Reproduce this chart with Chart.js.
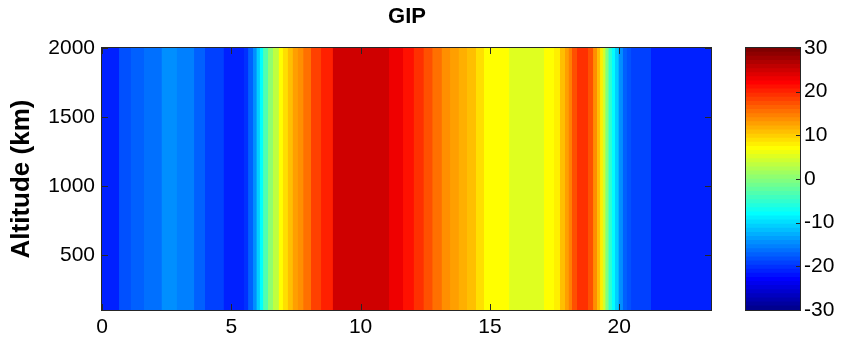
<!DOCTYPE html>
<html><head><meta charset="utf-8">
<script src="https://cdn.jsdelivr.net/npm/chart.js@4.4.0/dist/chart.umd.min.js"></script>
<style>
html,body{margin:0;padding:0;background:#fff;width:842px;height:341px;overflow:hidden}
#main{position:absolute;left:0;top:0}
#cbar{position:absolute;left:740px;top:0}
</style></head><body>
<canvas id="main" width="814" height="341"></canvas>
<canvas id="cbar" width="102" height="341"></canvas>
<script>
// ---- data ----
const chartTitle = 'GIP';
const yAxisTitle = 'Altitude (km)';
const stripeStartHours = [0,0.66,1.11,1.62,2.30,2.89,3.56,3.98,4.70,5.49,5.65,5.84,5.97,6.10,6.23,6.42,6.61,6.83,6.99,7.18,7.37,7.57,7.78,8.08,8.47,8.92,11.10,11.64,12.05,12.43,12.77,13.13,13.46,13.79,14.11,14.46,14.77,15.24,15.74,17.09,17.48,17.71,17.90,18.04,18.17,18.37,18.79,18.99,19.14,19.26,19.36,19.46,19.58,19.71,19.84,19.97,20.14,20.29,20.46,21.23];
const gipValues = [-21.1,-18.1,-17.1,-16.1,-14.1,-15.1,-17.1,-19.1,-21.1,-20.1,-17.1,-14.1,-11.1,-8.1,-3.6,0.9,3.4,6.9,8.9,10.9,12.9,13.9,15.9,17.9,19.9,24.9,22.9,20.9,19.4,17.4,15.4,13.9,12.9,11.9,10.4,8.9,7.4,6.9,5.2,6.9,7.9,10.4,12.9,14.9,16.9,18.9,16.9,13.9,10.9,7.9,3.9,-0.6,-5.1,-8.1,-11.1,-14.1,-17.1,-18.1,-19.1,-21.1];
const hourMax = 23.55;
const altitudeRange = [100, 2000];
const xTicks = [0, 5, 10, 15, 20];
const yTicks = [500, 1000, 1500, 2000];
const cbarRange = [-30, 30];
const cbarTicks = [-30, -20, -10, 0, 10, 20, 30];
const nColors = 64;

// ---- MATLAB jet(64) colormap ----
function jetColor(k){ // k = 1..64
  const n = 16, u = [];
  for(let j=1;j<=n;j++) u.push(j/n);
  for(let j=1;j<n;j++) u.push(1);
  for(let j=n;j>=1;j--) u.push(j/n);
  const U = j => (j>=1 && j<=u.length) ? u[j-1] : 0;
  const r=U(k-24), g=U(k-8), b=U(k+8);
  return `rgb(${Math.round(r*255)},${Math.round(g*255)},${Math.round(b*255)})`;
}
function colorFor(v){
  let k = Math.floor((v-cbarRange[0])/(cbarRange[1]-cbarRange[0])*nColors)+1;
  k = Math.max(1, Math.min(nColors, k));
  return jetColor(k);
}

const FONT = '"Liberation Sans", Arial, Helvetica, sans-serif';
const FRAME = '#262626';
const plain = v => String(v);

// ---- main heat map ----
const N = stripeStartHours.length;
const stripeSets = stripeStartHours.map((h,i)=>({
  data:[{x:h, y:altitudeRange[1]}, {x:hourMax, y:altitudeRange[1]}],
  fill:{value:altitudeRange[0]},
  backgroundColor: colorFor(gipValues[i]),
  borderWidth:0, pointRadius:0, tension:0,
  order: N - i
}));

const framePlugin = {
  id:'frame',
  afterDatasetsDraw(chart){
    const {ctx, chartArea:a, scales:{x,y}} = chart;
    ctx.save();
    ctx.strokeStyle = FRAME; ctx.lineWidth = 1;
    ctx.beginPath();
    const L = 6;
    xTicks.forEach(v=>{
      const px = Math.round(x.getPixelForValue(v))+0.5;
      ctx.moveTo(px, a.bottom); ctx.lineTo(px, a.bottom-L);
      ctx.moveTo(px, a.top); ctx.lineTo(px, a.top+L);
    });
    yTicks.forEach(v=>{
      const py = Math.round(y.getPixelForValue(v))+0.5;
      ctx.moveTo(a.left, py); ctx.lineTo(a.left+L, py);
      ctx.moveTo(a.right, py); ctx.lineTo(a.right-L, py);
    });
    ctx.stroke();
    ctx.strokeRect(Math.round(a.left)-0.5, Math.round(a.top)-0.5, Math.round(a.right-a.left)+1, Math.round(a.bottom-a.top)+1);
    ctx.restore();
  }
};

new Chart(document.getElementById('main'), {
  type:'line',
  data:{datasets: stripeSets},
  plugins:[framePlugin],
  options:{
    responsive:false, animation:false, events:[],
    layout:{padding:0},
    plugins:{
      legend:{display:false}, tooltip:{enabled:false},
      title:{display:true, text:chartTitle, color:'#000',
        font:{family:FONT, size:22, weight:'bold', lineHeight:1.2},
        padding:{top:4, bottom:17.6}}
    },
    scales:{
      x:{type:'linear', min:0, max:hourMax,
        grid:{display:false, drawTicks:false}, border:{display:false},
        ticks:{color:'#000', font:{family:FONT, size:21}, padding:5, maxRotation:0, autoSkip:false, callback:plain},
        afterBuildTicks:s=>{ s.ticks = xTicks.map(v=>({value:v})); },
        afterFit:s=>{ s.height = 31; }
      },
      y:{type:'linear', min:altitudeRange[0], max:altitudeRange[1],
        grid:{display:false, drawTicks:false}, border:{display:false},
        ticks:{color:'#000', font:{family:FONT, size:21}, padding:7, callback:plain},
        title:{display:true, text:yAxisTitle, color:'#000', font:{family:FONT, size:26, weight:'bold', lineHeight:1.2}, padding:{top:6, bottom:0}},
        afterBuildTicks:s=>{ s.ticks = yTicks.map(v=>({value:v})); },
        afterFit:s=>{ s.width = 102; }
      },
      y2:{type:'linear', position:'right', display:true,
        grid:{display:false, drawTicks:false}, border:{display:false},
        ticks:{display:false},
        afterFit:s=>{ s.width = 103; }
      }
    }
  }
});

// ---- colour bar ----
const levelSets = [];
for(let k=1;k<=nColors;k++){
  levelSets.push({
    data:[[cbarRange[0], cbarRange[0] + k*(cbarRange[1]-cbarRange[0])/nColors]],
    backgroundColor: jetColor(k), borderWidth:0,
    barPercentage:1, categoryPercentage:1, grouped:false
  });
}
const cbarFrame = {
  id:'cbarFrame',
  afterDatasetsDraw(chart){
    const {ctx, chartArea:a, scales:{y}} = chart;
    ctx.save(); ctx.strokeStyle = FRAME; ctx.lineWidth = 1;
    ctx.beginPath();
    cbarTicks.forEach(v=>{
      const py = Math.round(y.getPixelForValue(v))+0.5;
      ctx.moveTo(a.right, py); ctx.lineTo(a.right-4, py);
    });
    ctx.stroke();
    ctx.strokeRect(Math.round(a.left)-0.5, Math.round(a.top)-0.5, Math.round(a.right-a.left)+1, Math.round(a.bottom-a.top)+1);
    ctx.restore();
  }
};
new Chart(document.getElementById('cbar'), {
  type:'bar',
  data:{labels:[''], datasets: levelSets},
  plugins:[cbarFrame],
  options:{
    responsive:false, animation:false, events:[],
    layout:{padding:{left:6, top:48, bottom:31, right:0}},
    plugins:{legend:{display:false}, tooltip:{enabled:false}},
    scales:{
      x:{display:false, stacked:false},
      y:{type:'linear', position:'right', min:cbarRange[0], max:cbarRange[1],
        grid:{display:false, drawTicks:false}, border:{display:false},
        ticks:{color:'#000', font:{family:FONT, size:21}, padding:4, callback:plain},
        afterBuildTicks:s=>{ s.ticks = cbarTicks.map(v=>({value:v})); },
        afterFit:s=>{ s.width = 42; }
      }
    }
  }
});
</script>
</body></html>
